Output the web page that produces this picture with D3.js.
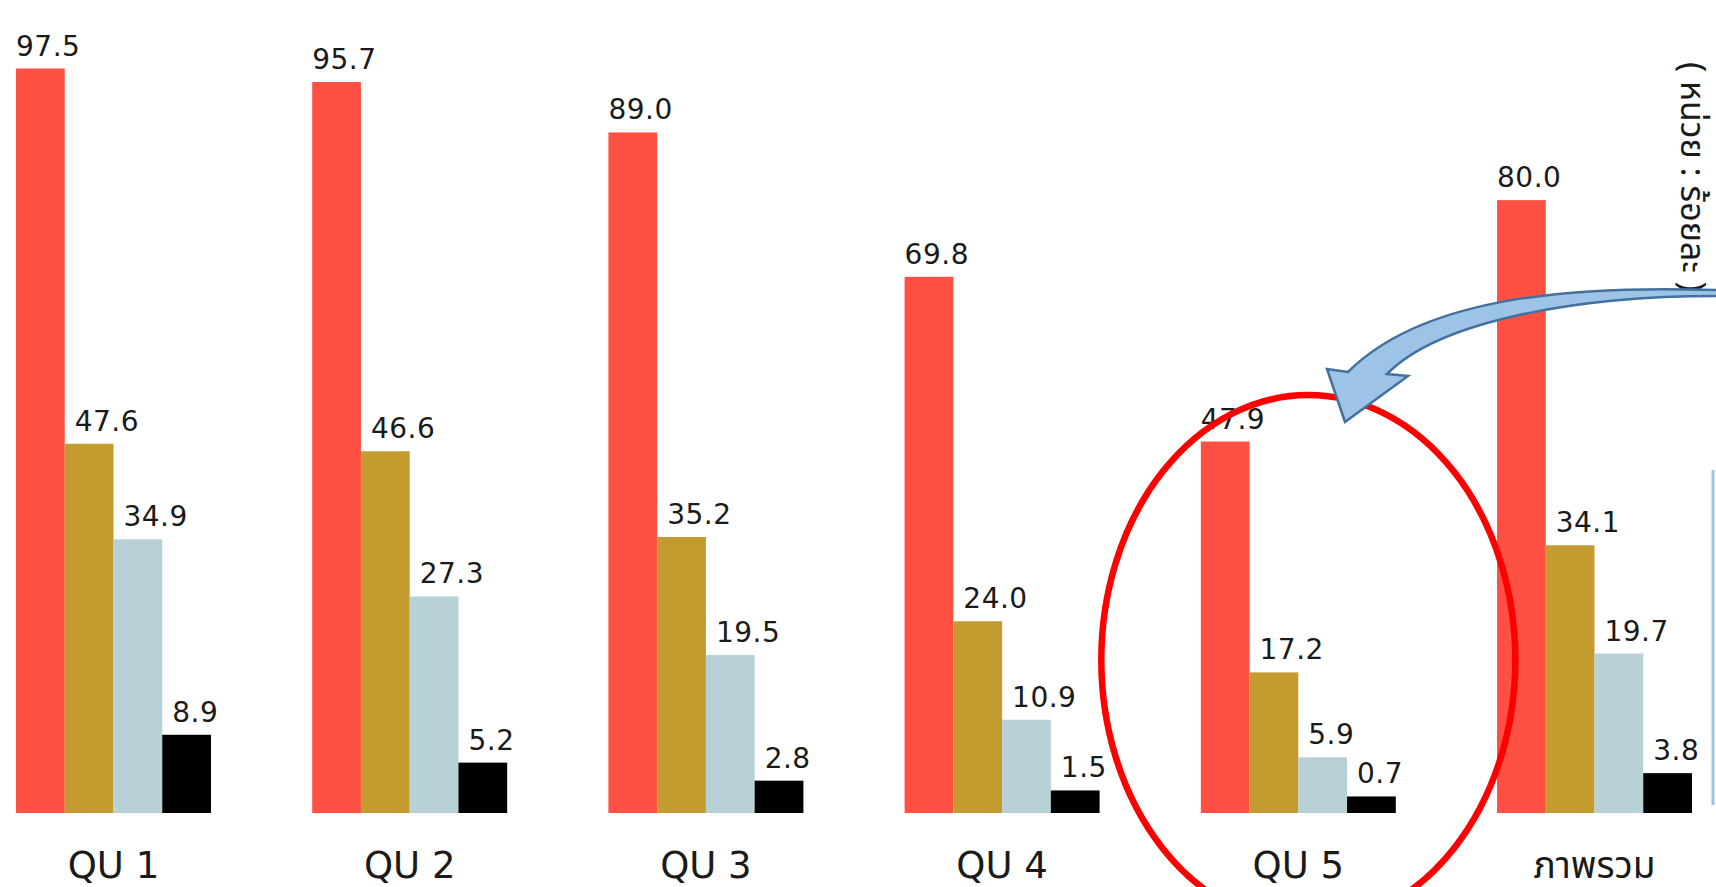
<!DOCTYPE html>
<html>
<head>
<meta charset="utf-8">
<script src="https://cdn.jsdelivr.net/npm/d3@7"></script>
<style>
  html, body { margin: 0; padding: 0; background: #ffffff; }
  svg { display: block; }
</style>
</head>
<body>
<div id="chart"></div>
<script>
const categories = ['QU 1', 'QU 2', 'QU 3', 'QU 4', 'QU 5', 'ภาพรวม'];
const seriesNames = ['s1', 's2', 's3', 's4'];
const s1Values = [97.5, 95.7, 89.0, 69.8, 47.9, 80.0];
const s2Values = [47.6, 46.6, 35.2, 24.0, 17.2, 34.1];
const s3Values = [34.9, 27.3, 19.5, 10.9, 5.9, 19.7];
const s4Values = [8.9, 5.2, 2.8, 1.5, 0.7, 3.8];
const unitLabel = '( หน่วย : ร้อยละ )';

const width = 1716;
const height = 887;
const baseline = 813;

const colors = {
  s1: '#ff5044',
  s2: '#c39b2f',
  s3: '#b7d1d7',
  s4: '#000000',
  text: '#1a1a1a',
  ring: '#ff0000',
  arrowFill: '#9dc3e6',
  arrowStroke: '#41719c'
};

const seriesValues = [s1Values, s2Values, s3Values, s4Values];
const rows = categories.map((c, i) => ({
  category: c,
  values: seriesNames.map((s, j) => ({ key: s, value: seriesValues[j][i] }))
}));

const svg = d3.select('#chart')
  .append('svg')
  .attr('width', width)
  .attr('height', height);

const x0 = d3.scaleBand()
  .domain(categories)
  .range([16, 1692])
  .paddingInner(0.3417)
  .paddingOuter(0);

const x1 = d3.scaleBand()
  .domain(seriesNames)
  .range([0, x0.bandwidth()])
  .padding(0);

// bars start a little below zero, as in the source picture
const y = d3.scaleLinear()
  .domain([-1.5, 100])
  .range([baseline, baseline - 101.5 * 7.52]);

const groups = svg.append('g')
  .attr('class', 'groups')
  .selectAll('g')
  .data(rows)
  .enter()
  .append('g')
  .attr('transform', d => `translate(${x0(d.category)},0)`);

groups.selectAll('rect')
  .data(d => d.values)
  .enter()
  .append('rect')
  .attr('x', d => x1(d.key))
  .attr('y', d => y(d.value))
  .attr('width', x1.bandwidth())
  .attr('height', d => baseline - y(d.value))
  .attr('fill', d => colors[d.key]);

// first series labels sit flush with the bar, the rest are nudged right
groups.selectAll('text.value')
  .data(d => d.values)
  .enter()
  .append('text')
  .attr('class', 'value')
  .attr('x', d => x1(d.key) + (d.key === 's1' ? 0 : 10))
  .attr('y', d => y(d.value) - 13)
  .attr('fill', colors.text)
  .attr('font-family', 'DejaVu Sans, sans-serif')
  .attr('font-size', '28px')
  .attr('letter-spacing', '0.5px')
  .text(d => d3.format('.1f')(d.value));

svg.append('g')
  .attr('class', 'x-labels')
  .selectAll('text')
  .data(categories)
  .enter()
  .append('text')
  .attr('x', d => x0(d) + x0.bandwidth() / 2)
  .attr('y', 878)
  .attr('text-anchor', 'middle')
  .attr('fill', colors.text)
  .attr('font-family', 'DejaVu Sans, "Noto Sans Thai", Loma, Garuda, sans-serif')
  .attr('font-size', '37px')
  .text(d => d);

// unit note, rotated on the right edge
svg.append('text')
  .attr('transform', 'translate(1681,62) rotate(90)')
  .attr('fill', colors.text)
  .attr('font-family', '"Noto Sans Thai", Loma, Garuda, DejaVu Sans, sans-serif')
  .attr('font-size', '34px')
  .text(unitLabel);

// edge of a box cut off at the right
svg.append('line')
  .attr('x1', 1713).attr('x2', 1713)
  .attr('y1', 470).attr('y2', 805)
  .attr('stroke', colors.arrowFill)
  .attr('stroke-width', 3);

// red ring around QU 5
const qu5 = x0('QU 5') + x0.bandwidth() / 2;
svg.append('ellipse')
  .attr('cx', qu5 + 10)
  .attr('cy', 660)
  .attr('rx', 207)
  .attr('ry', 265)
  .attr('fill', 'none')
  .attr('stroke', colors.ring)
  .attr('stroke-width', 6.5);

// curved callout arrow
const arrow = d3.path();
arrow.moveTo(1716, 290);
arrow.bezierCurveTo(1560, 285, 1420, 300, 1348, 372);
arrow.lineTo(1327, 369);
arrow.lineTo(1345, 422);
arrow.lineTo(1408, 376);
arrow.lineTo(1387, 374);
arrow.bezierCurveTo(1440, 320, 1580, 296, 1716, 296);

svg.append('path')
  .attr('d', arrow.toString())
  .attr('fill', colors.arrowFill)
  .attr('stroke', colors.arrowStroke)
  .attr('stroke-width', 2.5)
  .attr('stroke-linejoin', 'miter');
</script>
</body>
</html>
